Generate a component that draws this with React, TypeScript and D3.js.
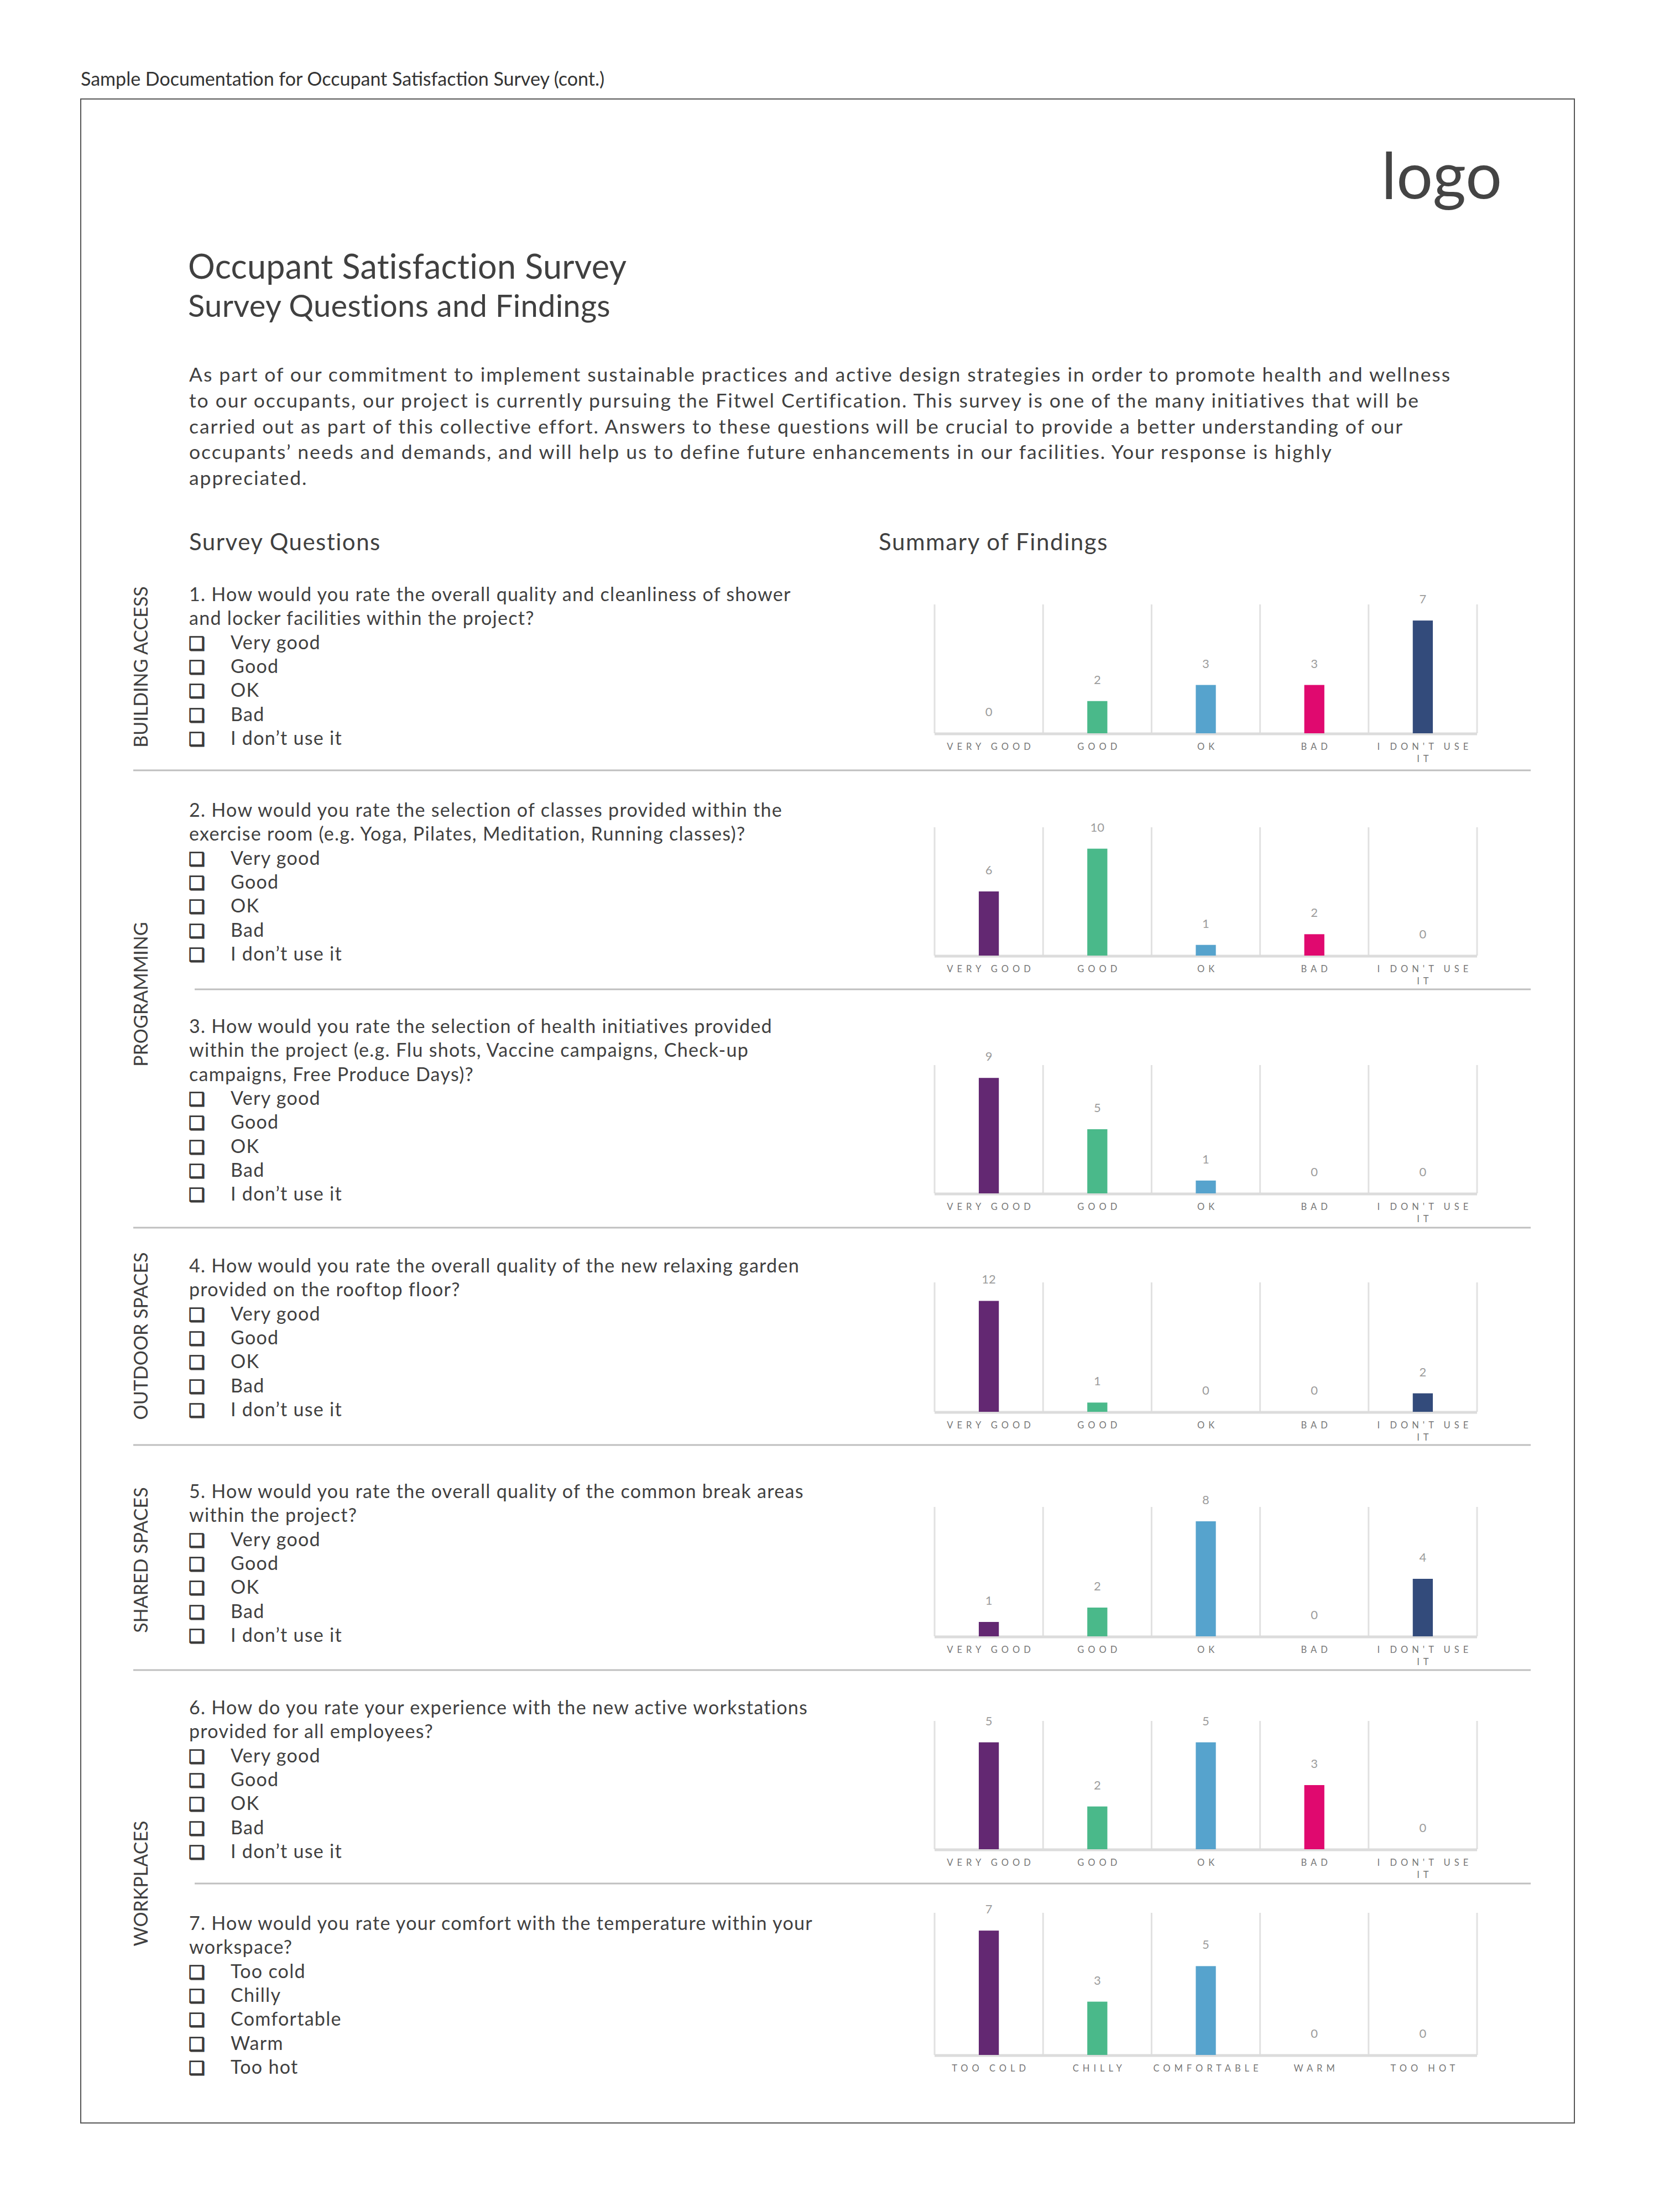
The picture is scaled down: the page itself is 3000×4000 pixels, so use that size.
import React from "react";
import * as d3 from "d3";

// ---------- DATA ----------
const RATING_CATEGORIES = ["VERY GOOD", "GOOD", "OK", "BAD", "I DON'T USE IT"];
const TEMP_CATEGORIES = ["TOO COLD", "CHILLY", "COMFORTABLE", "WARM", "TOO HOT"];
const RATING_OPTIONS = ["Very good", "Good", "OK", "Bad", "I don’t use it"];
const TEMP_OPTIONS = ["Too cold", "Chilly", "Comfortable", "Warm", "Too hot"];

const Q1_VALUES = [0, 2, 3, 3, 7];
const Q2_VALUES = [6, 10, 1, 2, 0];
const Q3_VALUES = [9, 5, 1, 0, 0];
const Q4_VALUES = [12, 1, 0, 0, 2];
const Q5_VALUES = [1, 2, 8, 0, 4];
const Q6_VALUES = [5, 2, 5, 3, 0];
const Q7_VALUES = [7, 3, 5, 0, 0];
const AXIS_MAX = [8, 12, 10, 14, 9, 6, 8];

const BAR_COLORS = ["#632872", "#4ab98a", "#56a3cd", "#e0096f", "#334b7b"];

const Q1_TEXT = ["1. How would you rate the overall quality and cleanliness of shower", "and locker facilities within the project?"];
const Q2_TEXT = ["2. How would you rate the selection of classes provided within the", "exercise room (e.g. Yoga, Pilates, Meditation, Running classes)?"];
const Q3_TEXT = ["3. How would you rate the selection of health initiatives provided", "within the project (e.g. Flu shots, Vaccine campaigns, Check-up", "campaigns, Free Produce Days)?"];
const Q4_TEXT = ["4. How would you rate the overall quality of the new relaxing garden", "provided on the rooftop floor?"];
const Q5_TEXT = ["5. How would you rate the overall quality of the common break areas", "within the project?"];
const Q6_TEXT = ["6. How do you rate your experience with the new active workstations", "provided for all employees?"];
const Q7_TEXT = ["7. How would you rate your comfort with the temperature within your", "workspace?"];

const SECTION_LABELS = ["BUILDING ACCESS", "PROGRAMMING", "OUTDOOR SPACES", "SHARED SPACES", "WORKPLACES"];

const INTRO_LINES = [
  "As part of our commitment to implement sustainable practices and active design strategies in order to promote health and wellness",
  "to our occupants, our project is currently pursuing the Fitwel Certification. This survey is one of the many initiatives that will be",
  "carried out as part of this collective effort. Answers to these questions will be crucial to provide a better understanding of our",
  "occupants’ needs and demands, and will help us to define future enhancements in our facilities. Your response is highly",
  "appreciated.",
];

// ---------- LAYOUT ----------
const FONT = "Lato, 'Noto Sans', sans-serif";
const TEXT = "#404040";
const CHART_X0 = 1690;
const CHART_X1 = 2671;
const CHART_TOPS = [1093, 1496, 1926, 2319, 2725, 3112, 3459];
const CHART_BOTTOMS = [1326, 1728, 2158, 2553, 2959, 3344, 3716];
const Q_BASELINES = [1087, 1477, 1868, 2301, 2709, 3100, 3490];
const LINE_H = 43.3;
const SEPARATORS = [
  { y: 1393, x0: 241 },
  { y: 1789, x0: 352 },
  { y: 2220, x0: 241 },
  { y: 2613, x0: 241 },
  { y: 3020, x0: 241 },
  { y: 3406, x0: 352 },
];
const SECTION_CENTERS = [1206, 1798, 2416, 2821, 3406];

const QUESTIONS = [
  { text: Q1_TEXT, options: RATING_OPTIONS, cats: RATING_CATEGORIES, values: Q1_VALUES },
  { text: Q2_TEXT, options: RATING_OPTIONS, cats: RATING_CATEGORIES, values: Q2_VALUES },
  { text: Q3_TEXT, options: RATING_OPTIONS, cats: RATING_CATEGORIES, values: Q3_VALUES },
  { text: Q4_TEXT, options: RATING_OPTIONS, cats: RATING_CATEGORIES, values: Q4_VALUES },
  { text: Q5_TEXT, options: RATING_OPTIONS, cats: RATING_CATEGORIES, values: Q5_VALUES },
  { text: Q6_TEXT, options: RATING_OPTIONS, cats: RATING_CATEGORIES, values: Q6_VALUES },
  { text: Q7_TEXT, options: TEMP_OPTIONS, cats: TEMP_CATEGORIES, values: Q7_VALUES },
];

function wrapLabel(label: string): string[] {
  if (label === "I DON'T USE IT") return ["I DON'T USE", "IT"];
  return [label];
}

function BarChart({ idx }: { idx: number }) {
  const q = QUESTIONS[idx];
  const top = CHART_TOPS[idx];
  const bottom = CHART_BOTTOMS[idx];
  const x = d3.scaleBand<string>().domain(q.cats).range([CHART_X0, CHART_X1]).padding(0);
  const y = d3.scaleLinear().domain([0, AXIS_MAX[idx]]).range([bottom, top]);
  const bw = x.bandwidth() * 0.185;
  const bounds = q.cats.map((c) => x(c) as number).concat([CHART_X1]);
  return (
    <g>
      {bounds.map((bx, i) => (
        <line key={"g" + i} x1={bx} x2={bx} y1={y(AXIS_MAX[idx])} y2={y(0)} stroke="#e1e1e1" strokeWidth={3} />
      ))}
      <line x1={CHART_X0} x2={CHART_X1} y1={y(0) + 1} y2={y(0) + 1} stroke="#dcdcdc" strokeWidth={5} />
      {q.cats.map((c, i) => {
        const cx = (x(c) as number) + x.bandwidth() / 2;
        const v = q.values[i];
        return (
          <g key={c}>
            {v > 0 && (
              <rect x={cx - bw / 2} y={y(v)} width={bw} height={y(0) - y(v)} fill={BAR_COLORS[i]} />
            )}
            <text x={cx} y={y(v) - 31} textAnchor="middle" fontSize={22} fill="#9c9c9c" fontFamily={FONT}>
              {v}
            </text>
            {wrapLabel(c).map((ln, j) => (
              <text
                key={j}
                x={cx + 3.5}
                y={y(0) + 30 + j * 22}
                textAnchor="middle"
                fontSize={16.5}
                letterSpacing={7}
                fill="#777"
                fontFamily={FONT}
              >
                {ln}
              </text>
            ))}
          </g>
        );
      })}
    </g>
  );
}

function Question({ idx }: { idx: number }) {
  const q = QUESTIONS[idx];
  const b0 = Q_BASELINES[idx];
  const lines = q.text.length;
  return (
    <g fontFamily={FONT} fill={TEXT}>
      {q.text.map((t, i) => (
        <text key={i} x={342} y={b0 + i * LINE_H} fontSize={34} letterSpacing={1.3}>
          {t}
        </text>
      ))}
      {q.options.map((o, i) => {
        const by = b0 + (lines + i) * LINE_H;
        return (
          <g key={o}>
            <text
              x={341}
              y={by + 1}
              fontSize={33}
              fontFamily="'DejaVu Sans', sans-serif"
              fill="#3a3a3a"
              stroke="#3a3a3a"
              strokeWidth={1.3}
            >
              ❑
            </text>
            <text x={417} y={by} fontSize={34} letterSpacing={1.3}>
              {o}
            </text>
          </g>
        );
      })}
    </g>
  );
}

export default function App() {
  return (
    <svg
      width={3000}
      height={4000}
      viewBox="0 0 3000 4000"
      style={{ position: "absolute", left: 0, top: 0, display: "block", background: "#fff" }}
    >
      <rect x={0} y={0} width={3000} height={4000} fill="#fff" />
      <text x={146} y={155} fontSize={34} fill="#333" fontFamily={FONT}>
        Sample Documentation for Occupant Satisfaction Survey (cont.)
      </text>
      <rect x={146} y={179} width={2701} height={3660} fill="none" stroke="#555" strokeWidth={2} />
      <text x={2716} y={359} fontSize={116} fill="#444" fontFamily={FONT} textAnchor="end">
        logo
      </text>
      <text x={340} y={504} fontSize={61} fill={TEXT} fontFamily={FONT} letterSpacing={0.3}>
        Occupant Satisfaction Survey
      </text>
      <text x={340} y={573} fontSize={56} fill={TEXT} fontFamily={FONT} letterSpacing={0.3}>
        Survey Questions and Findings
      </text>
      {INTRO_LINES.map((l, i) => (
        <text key={i} x={342} y={690 + i * 46.8} fontSize={35.5} fill={TEXT} fontFamily={FONT} letterSpacing={1.95}>
          {l}
        </text>
      ))}
      <text x={342} y={995} fontSize={42} fill={TEXT} fontFamily={FONT} letterSpacing={1.5}>
        Survey Questions
      </text>
      <text x={1589} y={995} fontSize={42} fill={TEXT} fontFamily={FONT} letterSpacing={1.6}>
        Summary of Findings
      </text>
      {SECTION_LABELS.map((s, i) => (
        <text
          key={s}
          transform={`translate(267,${SECTION_CENTERS[i]}) rotate(-90)`}
          textAnchor="middle"
          fontSize={34}
          fill={TEXT}
          fontFamily={FONT}
        >
          {s}
        </text>
      ))}
      {SEPARATORS.map((s, i) => (
        <line key={i} x1={s.x0} x2={2768} y1={s.y} y2={s.y} stroke="#bfbfbf" strokeWidth={3} />
      ))}
      {QUESTIONS.map((_, i) => (
        <g key={i}>
          <Question idx={i} />
          <BarChart idx={i} />
        </g>
      ))}
    </svg>
  );
}
